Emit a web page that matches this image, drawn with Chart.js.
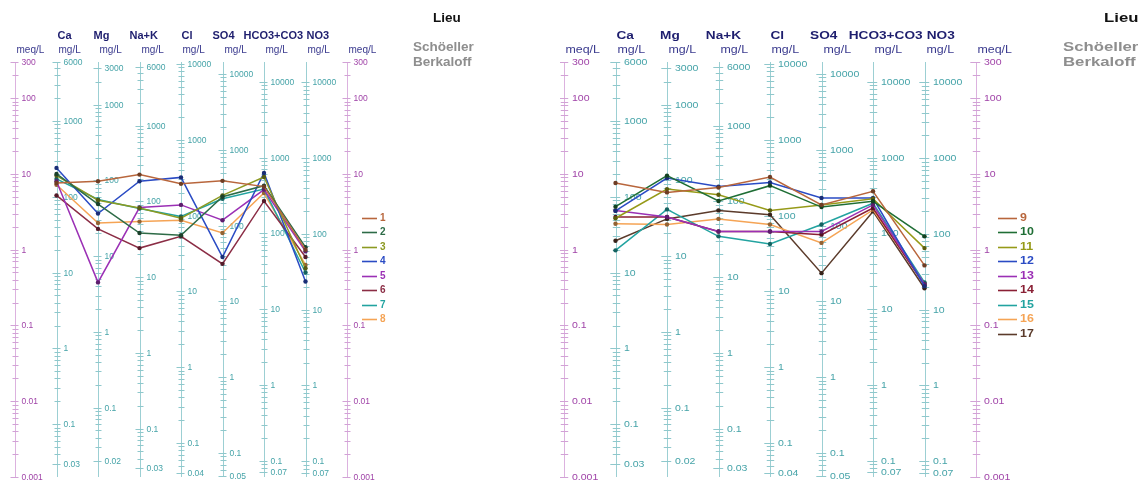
<!DOCTYPE html>
<html>
<head>
<meta charset="utf-8">
<script src="https://cdn.jsdelivr.net/npm/chart.js@4.4.1/dist/chart.umd.min.js"></script>
<style>
  html, body { margin: 0; padding: 0; background: #ffffff; }
  #wrap { position: relative; width: 1146px; height: 481px; overflow: hidden; }
  .panel { position: absolute; top: 0; height: 481px; }
</style>
</head>
<body>
<div id="wrap">
  <div class="panel" style="left:0;width:560px"><canvas id="leftChart" width="560" height="481"></canvas></div>
  <div class="panel" style="left:560px;width:586px"><canvas id="rightChart" width="586" height="481"></canvas></div>
</div>
<script>
// Vertical axes of the Schoeller-Berkaloff diagram (meq/L on both sides)
const axisNames = ['meq/L', 'Ca', 'Mg', 'Na+K', 'Cl', 'SO4', 'HCO3+CO3', 'NO3', 'meq/L'];
const ionNames = ['Ca', 'Mg', 'Na+K', 'Cl', 'SO4', 'HCO3+CO3', 'NO3'];
// mg per meq for each ion, used to place the mg/L scales
const eqWeights = [20.04, 12.15, 23.0, 35.45, 48.03, 61.02, 62.0];
const meqMin = 0.001;
const meqMax = 300;

// Concentrations in meq/L, order: Ca, Mg, Na+K, Cl, SO4, HCO3+CO3, NO3
const sample1  = [7.6, 8.0, 9.8, 7.4, 8.1, 6.8, 1.0];
const sample2  = [10.0, 4.0, 1.66, 1.55, 5.0, 7.0, 1.08];
const sample3  = [9.5, 4.5, 3.55, 2.6, 5.2, 9.1, 0.57];
const sample4  = [12.0, 3.0, 8.0, 9.0, 0.8, 10.3, 0.38];
const sample5  = [8.0, 0.37, 3.6, 3.9, 2.45, 6.2, 0.95];
const sample6  = [5.2, 1.88, 1.05, 1.5, 0.65, 4.4, 0.8];
const sample7  = [8.6, 4.6, 3.5, 2.75, 4.7, 6.3, 0.5];
const sample8  = [7.2, 2.25, 2.35, 2.45, 1.66, 5.6, 0.63];

const sample9  = [7.6, 5.7, 6.6, 9.1, 3.9, 5.9, 0.62];
const sample10 = [3.7, 9.5, 4.4, 7.0, 3.65, 4.35, 1.5];
const sample11 = [2.6, 6.3, 5.3, 3.3, 3.9, 4.7, 1.05];
const sample12 = [3.25, 8.8, 6.8, 7.7, 4.8, 4.8, 0.33];
const sample13 = [3.3, 2.7, 1.74, 1.74, 1.74, 3.9, 0.35];
const sample14 = [2.7, 2.7, 1.74, 1.74, 1.58, 3.55, 0.34];
const sample15 = [0.98, 3.4, 1.5, 1.19, 2.15, 4.1, 0.37];
const sample16 = [2.2, 2.15, 2.55, 2.15, 1.23, 3.35, 0.36];
const sample17 = [1.31, 2.55, 3.3, 2.9, 0.49, 3.2, 0.31];

const leftNames  = ['1', '2', '3', '4', '5', '6', '7', '8'];
const leftSeries = [sample1, sample2, sample3, sample4, sample5, sample6, sample7, sample8];
const rightNames  = ['9', '10', '11', '12', '13', '14', '15', '16', '17'];
const rightSeries = [sample9, sample10, sample11, sample12, sample13, sample14, sample15, sample16, sample17];

const leftColors  = ['#b8663c', '#2d6b47', '#8c9a22', '#2a4bc4', '#9b30b5', '#8b2d45', '#22a3a0', '#f5a455'];
const rightColors = ['#b8663c', '#1f6e35', '#969a18', '#2a4bc4', '#9b30b5', '#8a2035', '#22a3a0', '#f5a455', '#5b3b2b'];

const FONT = '"Liberation Sans", Arial, Helvetica, sans-serif';

function darken(hex, f) {
  const n = parseInt(hex.slice(1), 16);
  const r = Math.round(((n >> 16) & 255) * f);
  const g = Math.round(((n >> 8) & 255) * f);
  const b = Math.round((n & 255) * f);
  return 'rgb(' + r + ',' + g + ',' + b + ')';
}

function drawText(ctx, s, x, y, font, color, sx, align) {
  ctx.save();
  ctx.translate(x, y);
  ctx.scale(sx, 1);
  ctx.font = font;
  ctx.fillStyle = color;
  ctx.textAlign = align || 'left';
  ctx.textBaseline = 'middle';
  ctx.fillText(s, 0, 0);
  ctx.restore();
}

// log ticks k*10^n that fall inside [lo, hi]
function logTicks(lo, hi) {
  const out = [];
  for (let e = Math.floor(Math.log10(lo)) - 1; e <= Math.ceil(Math.log10(hi)); e++) {
    for (let k = 1; k <= 9; k++) {
      const v = Number((k * Math.pow(10, e)).toPrecision(6));
      if (v >= lo * 0.99999 && v <= hi * 1.00001) out.push({ v: v, major: k === 1 });
    }
  }
  if (out.length) {
    out[0].major = true;
    out[out.length - 1].major = true;
  }
  return out;
}

const schoellerFrame = {
  id: 'schoellerFrame',
  beforeDatasetsDraw(chart, args, o) {
    const ctx = chart.ctx;
    const xs = chart.scales.x;
    const ys = chart.scales.y;
    const sx = o.sx;
    const yTop = ys.getPixelForValue(meqMax);
    const yBot = ys.getPixelForValue(meqMin);

    for (let i = 0; i < axisNames.length; i++) {
      const x = Math.round(xs.getPixelForValue(i)) + 0.5;
      const isMeq = (i === 0 || i === axisNames.length - 1);
      const w = isMeq ? 1 : eqWeights[i - 1];
      const lineCol = isMeq ? '#dcb2df' : '#9ccfd3';
      const tickCol = isMeq ? '#d2a2d6' : '#8fc8cc';
      const labCol = isMeq ? '#a044a8' : '#45a3a8';

      ctx.save();
      ctx.lineWidth = 1;
      ctx.strokeStyle = lineCol;
      ctx.beginPath();
      ctx.moveTo(x, yTop);
      ctx.lineTo(x, yBot);
      ctx.stroke();

      ctx.strokeStyle = tickCol;
      const ticks = logTicks(meqMin * w, meqMax * w);
      ticks.forEach(t => {
        const y = Math.round(ys.getPixelForValue(t.v / w)) + 0.5;
        ctx.beginPath();
        ctx.moveTo(x - (t.major ? 5 : 3) * sx, y);
        ctx.lineTo(x + 3 * sx, y);
        ctx.stroke();
        if (t.major) {
          drawText(ctx, String(t.v), x + 6 * sx, y, '8.5px ' + FONT, labCol, sx, 'left');
        }
      });
      ctx.restore();

      // unit label above each axis
      drawText(ctx, isMeq ? 'meq/L' : 'mg/L', x + 1, 50, '10px ' + FONT, '#3a3a8e', sx, 'left');
      // ion name
      if (!isMeq) {
        drawText(ctx, ionNames[i - 1], x + o.headerShift[i - 1] * sx, 36, 'bold 11px ' + FONT, '#1e1e6e', sx, 'left');
      }
    }

    drawText(ctx, 'Lieu', o.lieuX, 18, 'bold 13.5px ' + FONT, '#111111', sx, 'left');
    drawText(ctx, 'Schöeller', o.titleX, 47, 'bold 13.5px ' + FONT, '#8e8e8e', sx, 'left');
    drawText(ctx, 'Berkaloff', o.titleX, 62, 'bold 13.5px ' + FONT, '#8e8e8e', sx, 'left');
  },
  afterDraw(chart, args, o) {
    const ctx = chart.ctx;
    chart.data.datasets.forEach((ds, i) => {
      const y = Math.round(o.legendY + i * 14.5) + 0.5;
      ctx.save();
      ctx.strokeStyle = ds.borderColor;
      ctx.lineWidth = 1.6;
      ctx.beginPath();
      ctx.moveTo(o.legendX, y);
      ctx.lineTo(o.legendX + o.legendLen, y);
      ctx.stroke();
      ctx.restore();
      drawText(ctx, ds.label, o.legendX + o.legendLen + 3, y, 'bold 10px ' + FONT, ds.borderColor, o.sx, 'left');
    });
  }
};

function buildChart(canvasId, names, series, colors, padding, frame) {
  return new Chart(document.getElementById(canvasId), {
    type: 'line',
    data: {
      labels: axisNames,
      datasets: series.map((vals, i) => ({
        label: names[i],
        data: [null].concat(vals, [null]),
        borderColor: colors[i],
        backgroundColor: colors[i],
        pointBackgroundColor: darken(colors[i], 0.6),
        pointBorderWidth: 0,
        pointRadius: 2.2,
        borderWidth: 1.5,
        tension: 0,
        clip: false
      }))
    },
    options: {
      responsive: false,
      animation: false,
      layout: { padding: padding },
      scales: {
        x: { type: 'category', display: false, offset: false },
        y: { type: 'logarithmic', display: false, min: meqMin, max: meqMax }
      },
      plugins: {
        legend: { display: false },
        tooltip: { enabled: false },
        schoellerFrame: frame
      }
    },
    plugins: [schoellerFrame]
  });
}

buildChart('leftChart', leftNames, leftSeries, leftColors,
  { left: 15, right: 213, top: 62, bottom: 3 },
  { sx: 1, headerShift: [0, -5, -11, 0, -11, -21, 0], lieuX: 433, titleX: 413,
    legendX: 362, legendLen: 15, legendY: 217.5 });

buildChart('rightChart', rightNames, rightSeries, rightColors,
  { left: 4, right: 170, top: 62, bottom: 3 },
  { sx: 1.24, headerShift: [0, -6, -11, 0, -10, -20, 1], lieuX: 544, titleX: 503,
    legendX: 438, legendLen: 19, legendY: 217.5 });
</script>
</body>
</html>
